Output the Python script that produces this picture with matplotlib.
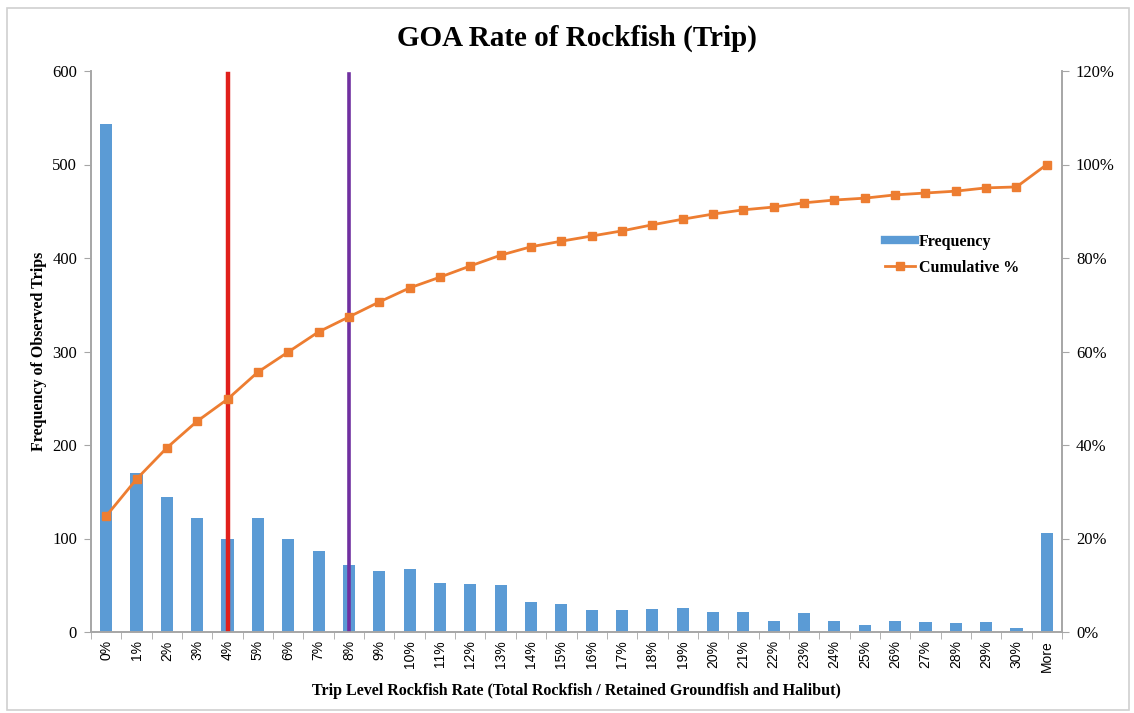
import matplotlib
matplotlib.use("Agg")
import matplotlib.pyplot as plt
from matplotlib.lines import Line2D
from matplotlib.patches import Rectangle
import numpy as np

categories = [f"{i}%" for i in range(31)] + ["More"]
frequency = [543, 170, 144, 122, 100, 122, 99, 87, 72, 65, 67, 52, 51, 50, 32, 30,
             23, 24, 25, 26, 21, 21, 12, 20, 12, 7.5, 12, 11, 10, 11, 4, 106]
cumulative = [24.8, 32.7, 39.4, 45.1, 49.8, 55.6, 59.9, 64.2, 67.4, 70.6, 73.6, 75.9,
              78.3, 80.6, 82.4, 83.6, 84.7, 85.8, 87.1, 88.3, 89.4, 90.3, 90.9, 91.8,
              92.4, 92.8, 93.5, 93.9, 94.3, 95.0, 95.2, 100.0]
red_line_at = "4%"
purple_line_at = "8%"
left_ticks = [0, 100, 200, 300, 400, 500, 600]
right_ticks = [0, 20, 40, 60, 80, 100, 120]

BLUE = "#5B9BD5"
ORANGE = "#ED7D31"
GRAY = "#A6A6A6"
SERIF = "Liberation Serif"
SANS = "Liberation Sans"

fig = plt.figure(figsize=(11.34, 7.13), dpi=100)
ax = fig.add_axes([91/1134, 1 - 632/713, (1062-91)/1134, (632-71)/713])
ax2 = ax.twinx()

x = np.arange(len(categories))
ax.bar(x, frequency, width=0.4, color=BLUE, zorder=2)
ax.set_xlim(-0.5, len(categories) - 0.5)
ax.set_ylim(0, 600)
ax.set_yticks(left_ticks)
ax.set_yticklabels([str(t) for t in left_ticks], fontfamily=SERIF, fontsize=12)

ax.set_xticks(x)
ax.set_xticklabels(categories, rotation=90, fontfamily=SANS, fontsize=10)
ax.set_xticks(np.arange(-0.5, len(categories), 1.0), minor=True)
ax.tick_params(axis="x", which="major", length=0, pad=6)
ax.tick_params(axis="x", which="minor", length=5, color=GRAY, direction="out")
ax.tick_params(axis="y", length=5, color=GRAY, direction="out", pad=5)

ax2.plot(x, cumulative, color=ORANGE, lw=2, marker="s", markersize=6, zorder=4)
ax2.set_ylim(0, 120)
ax2.set_yticks(right_ticks)
ax2.set_yticklabels([f"{t}%" for t in right_ticks], fontfamily=SERIF, fontsize=12)
ax2.tick_params(axis="y", length=5, color=GRAY, direction="out", pad=5)

ri = categories.index(red_line_at)
pi = categories.index(purple_line_at)
ax.axvline(ri, ymin=0, ymax=0.995, color="#E0201B", lw=3.2, zorder=5)
ax.axvline(pi, ymin=0, ymax=0.995, color="#7030A0", lw=2.6, zorder=5)

for a in (ax, ax2):
    a.spines["top"].set_visible(False)
    for s in ("left", "right", "bottom"):
        a.spines[s].set_color(GRAY)
        a.spines[s].set_linewidth(1.2)

ax.set_ylabel("Frequency of Observed Trips", fontfamily=SERIF, fontweight="bold",
              fontsize=11.5, labelpad=4)
ax.set_xlabel("Trip Level Rockfish Rate (Total Rockfish / Retained Groundfish and Halibut)",
              fontfamily=SERIF, fontweight="bold", fontsize=11.5, labelpad=8)
fig.text(0.509, 1 - 38/713, "GOA Rate of Rockfish (Trip)", ha="center", va="center",
         fontfamily=SERIF, fontweight="bold", fontsize=21)

handles = [Line2D([0], [0], color=BLUE, lw=6),
           Line2D([0], [0], color=ORANGE, lw=2, marker="s", markersize=6)]
leg = ax.legend(handles, ["Frequency", "Cumulative %"], loc="upper left",
                frameon=False,
                prop={"family": SERIF, "weight": "bold", "size": 11.5},
                handlelength=1.9, handletextpad=0.2, labelspacing=0.6,
                borderpad=0.0, borderaxespad=0.0)
leg.set_bbox_to_anchor((885/1134, 1 - 234/713), transform=fig.transFigure)
leg.set_zorder(6)

fig.patches.append(Rectangle((7/1134, 1 - 710/713), (1129-7)/1134, (710-8)/713,
                             transform=fig.transFigure, fill=False,
                             edgecolor="#D0D0D0", lw=1.2))

fig.savefig("out.png", dpi=100)
